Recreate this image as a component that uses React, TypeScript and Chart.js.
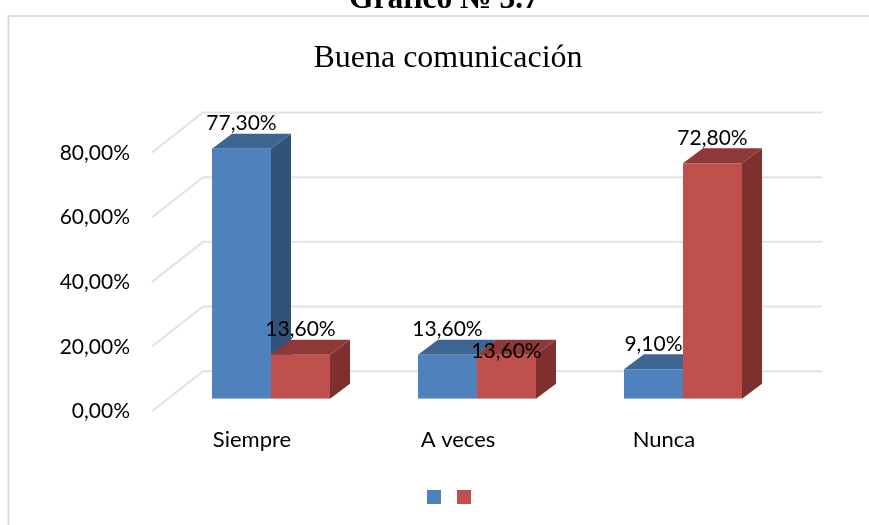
import React, { useEffect, useRef } from "react";
import { Chart, registerables } from "chart.js";

Chart.register(...registerables);

const categories = ["Siempre", "A veces", "Nunca"];
const seriesBlue = [77.3, 13.6, 9.1];
const seriesRed = [13.6, 13.6, 72.8];
const yTicks = [0, 20, 40, 60, 80];
const chartTitle = "Buena comunicación";
const heading = "Gráfico № 3.7";

const COLORS = [
  { front: "#4f81bd", top: "#3e6492", side: "#335278" },
  { front: "#c0504d", top: "#8e3937", side: "#7d302e" },
];
const DEPTH_X = 20;
const DEPTH_Y = 15;
const pct = (v: number) => v.toFixed(2).replace(".", ",") + "%";

const box3d = {
  id: "box3d",
  afterLayout(chart: any) {
    chart.legend.left += 4;
    chart.legend.right += 4;
  },
  beforeDraw(chart: any) {
    const { ctx, width, height } = chart;
    ctx.save();
    ctx.fillStyle = "#ffffff";
    ctx.fillRect(0, 0, width, height);
    // outer frame: top and left edges only
    ctx.strokeStyle = "#dcdcdc";
    ctx.lineWidth = 2;
    ctx.beginPath();
    ctx.moveTo(8.5, height);
    ctx.lineTo(8.5, 16);
    ctx.lineTo(width, 16);
    ctx.stroke();
    // heading above the frame
    ctx.fillStyle = "#000000";
    ctx.font = "bold 31.5px 'Liberation Serif'";
    ctx.textAlign = "center";
    ctx.textBaseline = "alphabetic";
    ctx.fillText(heading, 444, 8);
    ctx.restore();
  },
  beforeDatasetsDraw(chart: any) {
    const { ctx, chartArea, scales } = chart;
    ctx.save();
    // 3D walls
    ctx.strokeStyle = "#e2e2e2";
    ctx.lineWidth = 2;
    yTicks.forEach((t) => {
      const y = scales.y.getPixelForValue(t);
      ctx.beginPath();
      ctx.moveTo(chartArea.left - 16, y + 12.5);
      ctx.lineTo(chartArea.left + 35, y - 27.5);
      ctx.lineTo(chartArea.right + 36, y - 27.5);
      ctx.stroke();
    });
    // bar top and side faces
    [0, 1].forEach((d) => {
      chart.getDatasetMeta(d).data.forEach((bar: any) => {
        const l = bar.x - bar.width / 2;
        const r = bar.x + bar.width / 2;
        const t = bar.y;
        const b = bar.base;
        ctx.fillStyle = COLORS[d].side;
        ctx.beginPath();
        ctx.moveTo(r, t);
        ctx.lineTo(r + DEPTH_X, t - DEPTH_Y);
        ctx.lineTo(r + DEPTH_X, b - DEPTH_Y);
        ctx.lineTo(r, b);
        ctx.closePath();
        ctx.fill();
        ctx.fillStyle = COLORS[d].top;
        ctx.beginPath();
        ctx.moveTo(l, t);
        ctx.lineTo(l + DEPTH_X, t - DEPTH_Y);
        ctx.lineTo(r + DEPTH_X, t - DEPTH_Y);
        ctx.lineTo(r, t);
        ctx.closePath();
        ctx.fill();
      });
    });
    ctx.restore();
  },
  afterDatasetsDraw(chart: any) {
    const { ctx } = chart;
    ctx.save();
    ctx.fillStyle = "#000000";
    ctx.font = "21px Lato";
    ctx.textAlign = "center";
    ctx.textBaseline = "middle";
    [0, 1].forEach((d) => {
      chart.getDatasetMeta(d).data.forEach((bar: any, i: number) => {
        const value = chart.data.datasets[d].data[i] as number;
        const lift = d === 1 && i === 1 ? 3 : 25.5;
        ctx.fillText(pct(value), bar.x, bar.y - lift);
      });
    });
    ctx.restore();
  },
};

export default function App() {
  const ref = useRef<HTMLCanvasElement>(null);
  useEffect(() => {
    document.body.style.margin = "0";
    const chart = new Chart(ref.current!, {
      type: "bar",
      data: {
        labels: categories,
        datasets: [
          { label: "", data: seriesBlue, backgroundColor: COLORS[0].front, categoryPercentage: 0.573, barPercentage: 1 },
          { label: "", data: seriesRed, backgroundColor: COLORS[1].front, categoryPercentage: 0.573, barPercentage: 1 },
        ],
      },
      options: {
        animation: false,
        responsive: false,
        layout: { padding: { left: 27, right: 0, top: 0, bottom: 11 } },
        plugins: {
          title: {
            display: true,
            text: chartTitle,
            color: "#000000",
            font: { family: "'Liberation Serif'", size: 32, weight: "normal" },
            padding: { top: 39.8, bottom: 61.8 },
          },
          legend: {
            display: true,
            position: "bottom",
            labels: { boxWidth: 14, boxHeight: 14, padding: 10, font: { size: 12 } },
          },
          tooltip: { enabled: false },
        },
        scales: {
          x: {
            grid: { display: false, drawTicks: false },
            border: { display: false },
            afterFit: (s: any) => { s.height = 81.3; },
            ticks: {
              color: "#000000",
              font: { family: "Lato", size: 22 },
              padding: 28,
              labelOffset: -19,
              maxRotation: 0,
            },
          },
          y: {
            min: 0,
            max: 80,
            afterFit: (s: any) => { s.width = 141; },
            grid: { display: false, drawTicks: false },
            border: { display: false },
            afterBuildTicks: (s: any) => { s.ticks = yTicks.map((value) => ({ value })); },
            ticks: {
              color: "#000000",
              font: { family: "Lato", size: 21 },
              padding: 38,
              labelOffset: 13,
              callback: (v: any) => pct(Number(v)),
            },
          },
          yRight: {
            type: "linear",
            position: "right",
            display: true,
            afterFit: (s: any) => { s.width = 83; },
            grid: { display: false, drawTicks: false },
            border: { display: false },
            ticks: { display: false },
          },
        },
      } as any,
      plugins: [box3d],
    });
    return () => chart.destroy();
  }, []);
  return <canvas ref={ref} width={869} height={525} style={{ display: "block" }} />;
}
